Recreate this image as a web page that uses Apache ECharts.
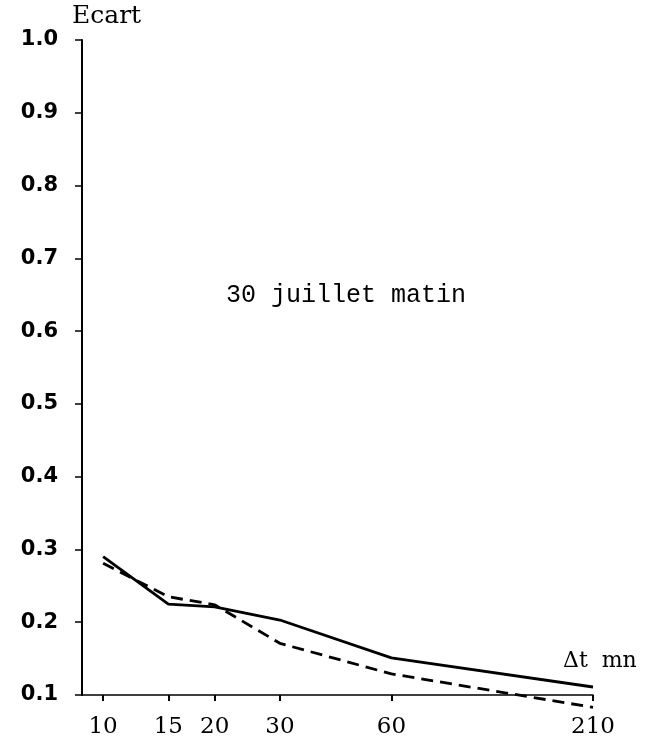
<!DOCTYPE html>
<html>
<head>
<meta charset="utf-8">
<script src="https://cdn.jsdelivr.net/npm/echarts@6/dist/echarts.min.js"></script>
<style>
  html, body { margin: 0; padding: 0; background: #fff; }
  #myChart0 { width: 658px; height: 741px; }
</style>
</head>
<body>
<div id="myChart0"></div>
<script>
// delta t (minutes) and the two ecart curves
var deltaT = [10, 15, 20, 30, 60, 210]
var ecartSolid = [0.29, 0.225, 0.221, 0.203, 0.151, 0.111]
var ecartDashed = [0.281, 0.235, 0.224, 0.171, 0.129, 0.083]

function pairs(ys) {
    return deltaT.map(function (t, i) { return [t, ys[i]] })
}

var myChart = echarts.init(document.getElementById('myChart0'))
myChart.setOption({
    animation: false,
    backgroundColor: '#fff',
    grid: { left: 82, right: 65, top: 40, bottom: 46 },
    xAxis: {
        type: 'log',
        logBase: 10,
        min: 8.77,
        max: 210,
        splitLine: { show: false },
        axisLine: { lineStyle: { color: '#000', width: 1.5 } },
        axisTick: {
            customValues: deltaT,
            length: 6,
            lineStyle: { color: '#000', width: 2 }
        },
        minorTick: { show: false },
        axisLabel: {
            customValues: deltaT,
            margin: 21,
            color: '#000',
            fontFamily: 'DejaVu Serif',
            fontSize: 23,
            formatter: function (v) { return String(Math.round(v)) }
        }
    },
    yAxis: {
        type: 'value',
        min: 0.1,
        max: 1.0,
        interval: 0.1,
        splitLine: { show: false },
        axisLine: { show: true, lineStyle: { color: '#000', width: 2 } },
        axisTick: { show: true, length: 7, lineStyle: { color: '#000', width: 1.5 } },
        axisLabel: {
            margin: 24,
            color: '#000',
            fontFamily: 'DejaVu Sans',
            fontWeight: 'bold',
            fontSize: 21,
            formatter: function (v) { return v.toFixed(1) }
        }
    },
    graphic: [
        { type: 'text', left: 72, top: 4, style: { text: 'Ecart', fontFamily: 'DejaVu Serif', fontSize: 25, fill: '#000' } },
        { type: 'text', left: 563, top: 650, style: { text: 'Δt  mn', fontFamily: 'DejaVu Serif', fontSize: 22, fill: '#000' } },
        { type: 'text', left: 226, top: 283, style: { text: '30 juillet matin', fontFamily: 'Liberation Mono', fontSize: 25, fill: '#000' } }
    ],
    series: [
        {
            name: 'solid',
            type: 'line',
            data: pairs(ecartSolid),
            symbol: 'none',
            clip: false,
            lineStyle: { color: '#000', width: 2.8, type: 'solid' }
        },
        {
            name: 'dashed',
            type: 'line',
            data: pairs(ecartDashed),
            symbol: 'none',
            clip: false,
            lineStyle: { color: '#000', width: 2.8, type: [12, 7] }
        }
    ]
})
</script>
</body>
</html>
